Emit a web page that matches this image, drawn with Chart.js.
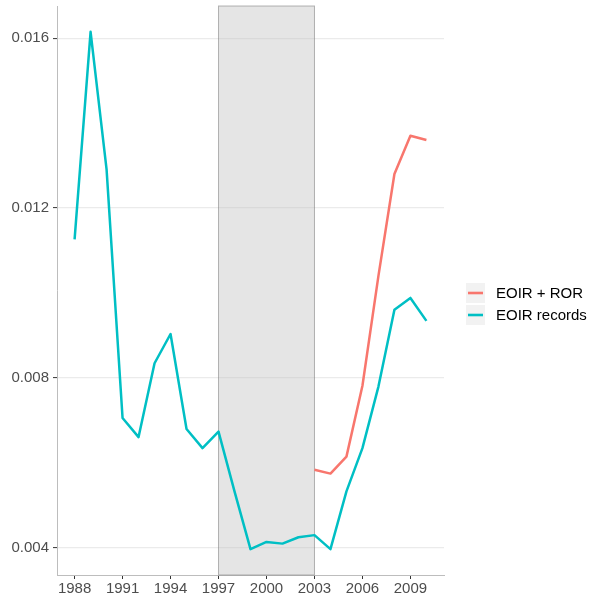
<!DOCTYPE html>
<html>
<head>
<meta charset="utf-8">
<script src="https://cdn.jsdelivr.net/npm/chart.js@4/dist/chart.umd.min.js"></script>
<style>
  html, body { margin: 0; padding: 0; background: #ffffff; }
  #chart { display: block; }
</style>
</head>
<body>
<canvas id="chart" width="595" height="600" style="width:595px;height:600px"></canvas>
<script>
// Yearly rates, 1988-2010
const years = [1988, 1989, 1990, 1991, 1992, 1993, 1994, 1995, 1996, 1997, 1998, 1999,
               2000, 2001, 2002, 2003, 2004, 2005, 2006, 2007, 2008, 2009, 2010];
const eoirRecords = [0.01126, 0.01615, 0.01291, 0.00705, 0.00660, 0.00834, 0.00903, 0.00679,
                     0.00634, 0.00673, 0.00532, 0.00396, 0.00413, 0.00409, 0.00424, 0.00429,
                     0.00396, 0.00532, 0.00634, 0.00779, 0.00960, 0.00988, 0.00934];

// Combined series, available from 2003 on
const rorYears = [2003, 2004, 2005, 2006, 2007, 2008, 2009, 2010];
const eoirRor = [0.00583, 0.00574, 0.00614, 0.00781, 0.01040, 0.01280, 0.01370, 0.01360];

const seriesNames = ['EOIR + ROR', 'EOIR records'];
const seriesColors = ['#F8766D', '#00BFC4'];

// Highlighted period
const shadedPeriod = [1997, 2003];

const xTicks = [1988, 1991, 1994, 1997, 2000, 2003, 2006, 2009];
const yTicks = [0.004, 0.008, 0.012, 0.016];

// Axis limits with a 5% margin on each side of the data range
const allValues = eoirRecords.concat(eoirRor);
const yMinData = Math.min(...allValues), yMaxData = Math.max(...allValues);
const yPad = (yMaxData - yMinData) * 0.05;
const xMinData = years[0], xMaxData = years[years.length - 1];
const xPad = (xMaxData - xMinData) * 0.05;

const FONT = '"Liberation Sans", Arial, Helvetica, sans-serif';

const shadePlugin = {
  id: 'shade',
  beforeDatasetsDraw(chart) {
    const { ctx, chartArea, scales } = chart;
    const x0 = scales.x.getPixelForValue(shadedPeriod[0]);
    const x1 = scales.x.getPixelForValue(shadedPeriod[1]);
    ctx.save();
    ctx.fillStyle = 'rgba(190,190,190,0.4)';
    ctx.fillRect(x0, chartArea.top, x1 - x0, chartArea.bottom - chartArea.top);
    ctx.strokeStyle = 'rgba(120,120,120,0.55)';
    ctx.lineWidth = 1;
    ctx.strokeRect(x0, chartArea.top, x1 - x0, chartArea.bottom - chartArea.top);
    ctx.restore();
  }
};

const legendPlugin = {
  id: 'sideLegend',
  afterDraw(chart) {
    const { ctx } = chart;
    const keyX = 466, keyW = 19, keyH = 20, firstY = 283, gap = 22;
    ctx.save();
    seriesNames.forEach((name, i) => {
      const y = firstY + i * gap;
      ctx.fillStyle = '#F2F2F2';
      ctx.fillRect(keyX, y, keyW, keyH);
      ctx.strokeStyle = seriesColors[i];
      ctx.lineWidth = 2.6;
      ctx.beginPath();
      ctx.moveTo(keyX + 2, y + keyH / 2);
      ctx.lineTo(keyX + keyW - 2, y + keyH / 2);
      ctx.stroke();
      ctx.fillStyle = '#000000';
      ctx.font = '15px ' + FONT;
      ctx.textBaseline = 'middle';
      ctx.textAlign = 'left';
      ctx.fillText(name, keyX + keyW + 11, y + keyH / 2 + 1);
    });
    ctx.restore();
  }
};

new Chart(document.getElementById('chart'), {
  type: 'line',
  data: {
    datasets: [
      {
        label: seriesNames[0],
        data: rorYears.map((yr, i) => ({ x: yr, y: eoirRor[i] })),
        borderColor: seriesColors[0],
        borderWidth: 2.5,
        pointRadius: 0,
        tension: 0,
        borderJoinStyle: 'round',
        fill: false
      },
      {
        label: seriesNames[1],
        data: years.map((yr, i) => ({ x: yr, y: eoirRecords[i] })),
        borderColor: seriesColors[1],
        borderWidth: 2.5,
        pointRadius: 0,
        tension: 0,
        borderJoinStyle: 'round',
        fill: false
      }
    ]
  },
  options: {
    responsive: false,
    animation: false,
    devicePixelRatio: 1,
    layout: { padding: { top: 6, right: 151, bottom: 0, left: 0 } },
    plugins: {
      legend: { display: false },
      tooltip: { enabled: false }
    },
    scales: {
      x: {
        type: 'linear',
        min: xMinData - xPad,
        max: xMaxData + xPad,
        afterBuildTicks(scale) { scale.ticks = xTicks.map(v => ({ value: v })); },
        afterFit(scale) {
          scale.height = 25;
          scale.paddingLeft = 0;
          scale.paddingRight = 0;
        },
        grid: { drawOnChartArea: false, drawTicks: true, tickLength: 4, tickColor: '#333333', tickWidth: 1 },
        border: { display: true, color: '#BDBDBD', width: 1 },
        ticks: {
          autoSkip: false,
          maxRotation: 0,
          padding: 1,
          color: '#4D4D4D',
          font: { size: 15, family: FONT },
          callback: v => String(v)
        }
      },
      y: {
        type: 'linear',
        min: yMinData - yPad,
        max: yMaxData + yPad,
        afterBuildTicks(scale) { scale.ticks = yTicks.map(v => ({ value: v })); },
        afterFit(scale) {
          scale.width = 57;
          scale.paddingTop = 0;
          scale.paddingBottom = 0;
        },
        grid: { color: '#EBEBEB', lineWidth: 1.2, drawTicks: true, tickLength: 4, tickColor: '#333333', tickWidth: 1 },
        border: { display: true, color: '#BDBDBD', width: 1 },
        ticks: {
          padding: 4,
          color: '#4D4D4D',
          font: { size: 15, family: FONT },
          callback: v => v.toFixed(3)
        }
      }
    }
  },
  plugins: [shadePlugin, legendPlugin]
});
</script>
</body>
</html>
